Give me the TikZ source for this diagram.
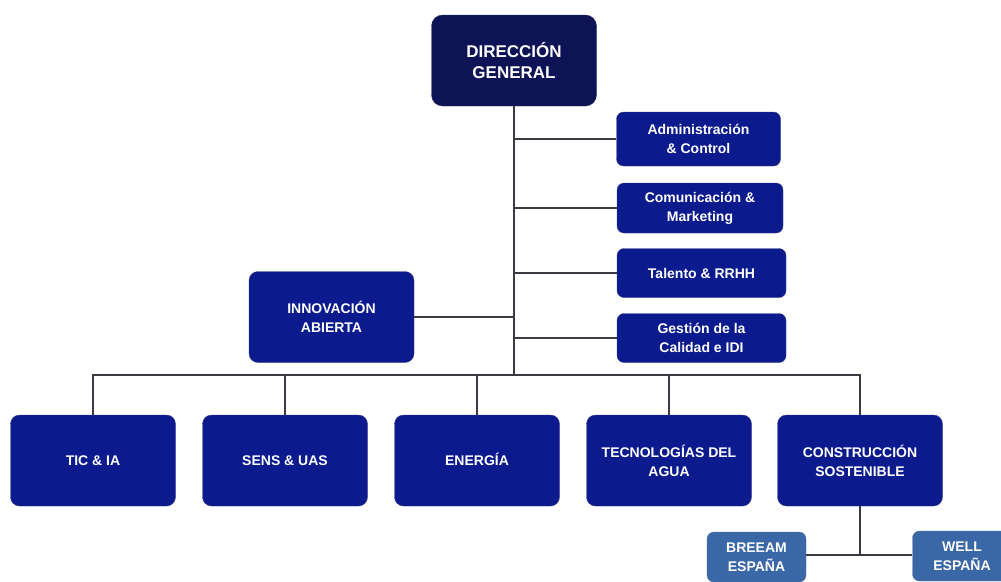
\documentclass[tikz,border=0pt]{standalone}
\usepackage{fontspec}
\setmainfont{Liberation Sans}
\usepackage{tikz}
\usetikzlibrary{positioning, calc}

\definecolor{dgnavy}{HTML}{0E1356}
\definecolor{deptblue}{HTML}{0B1A8C}
\definecolor{subblue}{HTML}{3A68A6}
\definecolor{linegray}{HTML}{3A3A45}

\begin{document}
\begin{tikzpicture}[
            x=1pt, y=-1pt,
            topbox/.style={
                rectangle, rounded corners=11pt, draw=dgnavy!70!gray, fill=dgnavy,
                text=white, align=center, font=\bfseries\fontsize{17}{21}\selectfont,
                minimum width=165pt, minimum height=91pt, inner sep=0pt
            },
            deptbox/.style={
                rectangle, rounded corners=9pt, draw=deptblue!60!gray, fill=deptblue,
                text=white, align=center, font=\bfseries\fontsize{14}{19}\selectfont,
                minimum width=165pt, minimum height=91pt, inner sep=0pt
            },
            staffbox/.style={
                deptbox, rounded corners=7pt,
                minimum width=164pt, minimum height=52pt
            },
            subbox/.style={
                rectangle, rounded corners=7pt, draw=subblue!60!gray, fill=subblue,
                text=white, align=center, font=\bfseries\fontsize{14}{19}\selectfont,
                minimum width=99pt, minimum height=50pt, inner sep=0pt
            },
            link/.style={draw=linegray, line width=1.6pt}
        ]
            \useasboundingbox (0,0) rectangle (1001,581);

            % direction and staff
            \node[topbox] (dg) at (514,60.5) {DIRECCIÓN\\GENERAL};
            \node[staffbox, minimum height=54pt] (adm) at (698.5,139) {Administración\\\& Control};
            \node[staffbox, minimum width=166pt, minimum height=50pt] (com) at (700,208) {Comunicación \&\\Marketing};
            \node[staffbox, minimum width=169pt, minimum height=49pt] (tal) at (701.5,273) {Talento \& RRHH};
            \node[staffbox, minimum width=169pt, minimum height=49pt] (cal) at (701.5,338) {Gestión de la\\Calidad e IDI};
            \node[deptbox] (inn) at (331.5,317) {INNOVACIÓN\\ABIERTA};

            % areas
            \node[deptbox] (tic) at (93,460.5) {TIC \& IA};
            \node[deptbox] (sens) at (285,460.5) {SENS \& UAS};
            \node[deptbox, text height=10pt, text depth=0pt] (ene) at (477,460.5) {ENERGÍA};
            \node[deptbox] (agua) at (669,460.5) {TECNOLOGÍAS DEL\\AGUA};
            \node[deptbox] (cons) at (860,460.5) {CONSTRUCCIÓN\\SOSTENIBLE};

            % certifications
            \node[subbox] (breeam) at (756.5,557) {BREEAM\\ESPAÑA};
            \node[subbox] (well) at (962,556) {WELL\\ESPAÑA};

            % connectors
            \coordinate (bus) at (514,375);
            \coordinate (fork) at (860,555);
            \begin{scope}[on background layer/.try]
            \draw[link] (dg.south) -- (bus);
            \foreach \n in {adm, com, tal, cal, inn}
                \draw[link] (\n) -- (\n -| dg.south);
            \draw[link] (tic.north) |- (bus) -| (cons.north);
            \foreach \n in {sens, ene, agua}
                \draw[link] (\n.north) -- (\n.north |- bus);
            \draw[link] (cons.south) -- (fork);
            \draw[link] (breeam.east |- fork) -- (well.west |- fork);
            \end{scope}
        \end{tikzpicture}
\end{document}
